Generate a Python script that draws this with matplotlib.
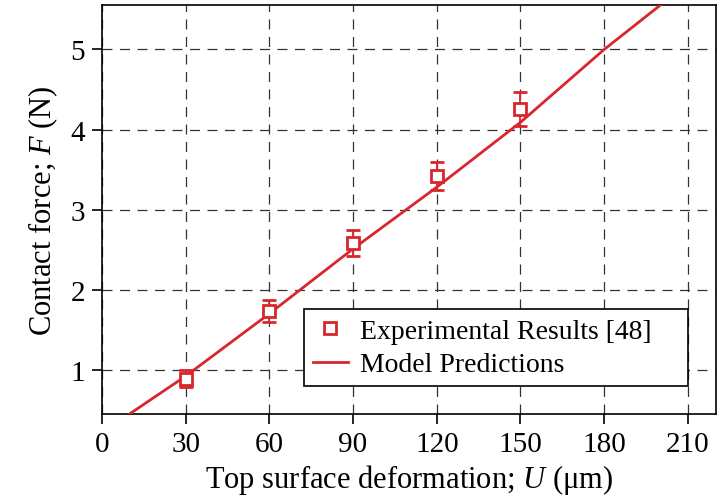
import matplotlib
matplotlib.use("Agg")
import matplotlib.pyplot as plt
from matplotlib.lines import Line2D

plt.rcParams['font.family'] = ['Liberation Serif', 'DejaVu Serif']
plt.rcParams['mathtext.fontset'] = 'custom'
plt.rcParams['mathtext.rm'] = 'Liberation Serif'
plt.rcParams['mathtext.it'] = 'Liberation Serif:italic'

# Experimental data
exp_x = [30, 60, 90, 120, 150]
exp_y = [0.89, 1.73, 2.58, 3.42, 4.26]
exp_err = [0.11, 0.14, 0.16, 0.18, 0.21]

# Model predictions
model_x = [0, 10, 30, 60, 90, 120, 150, 180, 200, 210]
model_y = [0.21, 0.45, 0.92, 1.70, 2.51, 3.28, 4.09, 5.00, 5.55, 5.83]

xticks = [0, 30, 60, 90, 120, 150, 180, 210]
yticks = [1, 2, 3, 4, 5]

red = '#d9262c'

fig = plt.figure(figsize=(7.23, 5.02), dpi=100)
ax = fig.add_axes([0.141, 0.173, 0.849, 0.815])

ax.plot(model_x, model_y, color=red, lw=2.0, zorder=3)
ax.errorbar(exp_x, exp_y, yerr=exp_err, fmt='s', mfc='white', mec=red, mew=2.0,
            ms=9, color=red, ecolor=red, elinewidth=1.3, capsize=5, capthick=1.3,
            zorder=4)

ax.set_xlim(0, 220)
ax.set_ylim(0.445, 5.555)
ax.set_xticks(xticks)
ax.set_yticks(yticks)

ax.grid(True, color='#333333', linestyle=(0, (8, 6)), lw=0.9)
ax.set_axisbelow(True)

for s in ax.spines.values():
    s.set_linewidth(1.2)
ax.tick_params(direction='out', length=7, width=1.2, labelsize=21, pad=5)

ax.set_xlabel('Top surface deformation; $\\mathit{U}$ (μm)', fontsize=22, labelpad=4)
ax.set_ylabel('Contact force; $\\mathit{F}$ (N)', fontsize=22, labelpad=8)

h_exp = Line2D([], [], marker='s', linestyle='none', mfc='white', mec=red, mew=2.0, ms=9)
h_mod = Line2D([], [], color=red, lw=2.0)
leg = ax.legend([h_exp, h_mod], ['Experimental Results [48]', 'Model Predictions'],
                loc='lower left', bbox_to_anchor=(0.329, 0.068, 0.625, 0.18),
                mode='expand', borderaxespad=0,
                fontsize=20, frameon=True, fancybox=False, edgecolor='black',
                framealpha=1, borderpad=0.32, handlelength=1.25, handletextpad=0.45,
                labelspacing=0.3)
leg.get_frame().set_linewidth(1.2)

fig.savefig('out.png', dpi=100)
